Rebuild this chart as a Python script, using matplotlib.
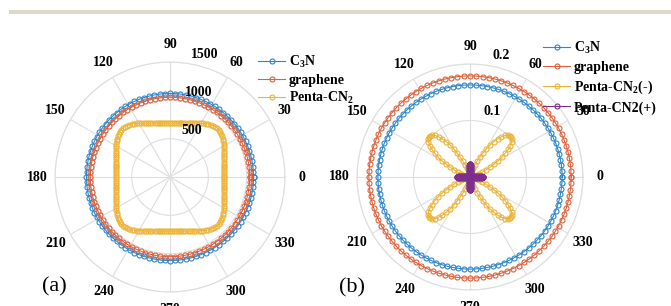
import numpy as np
import matplotlib
matplotlib.use('Agg')
import matplotlib.pyplot as plt
from matplotlib.patches import Rectangle
from matplotlib.transforms import offset_copy

plt.rcParams['font.family'] = ['Liberation Serif', 'DejaVu Serif']
plt.rcParams['font.weight'] = 'bold'
plt.rcParams['mathtext.fontset'] = 'custom'
plt.rcParams['mathtext.rm'] = 'Liberation Serif:bold'
plt.rcParams['mathtext.it'] = 'Liberation Serif:bold'
plt.rcParams['mathtext.bf'] = 'Liberation Serif:bold'

# ---------------- data ----------------
angles_deg = np.arange(0, 360.01, 3.6)        # 101 sample angles (deg), C3N / graphene
angles_fine_deg = np.arange(0, 360.01, 2.0)   # 181 sample angles (deg), Penta-CN2

theta_ticks = [0, 30, 60, 90, 120, 150, 180, 210, 240, 270, 300, 330]
theta_labels = ['0', '30', '60', '90', '120', '150', '180', '210', '240', '270', '300', '330']

# panel (a)
a_rticks = [500, 1000, 1500]
a_rlabels = ['500', '1000', '1500']
c3n_a = [1090, 1090, 1090, 1090, 1090, 1090, 1090, 1090, 1090, 1090,
         1090, 1090, 1090, 1090, 1090, 1090, 1090, 1090, 1090, 1090,
         1090, 1090, 1090, 1090, 1090, 1090, 1090, 1090, 1090, 1090,
         1090, 1090, 1090, 1090, 1090, 1090, 1090, 1090, 1090, 1090,
         1090, 1090, 1090, 1090, 1090, 1090, 1090, 1090, 1090, 1090,
         1090, 1090, 1090, 1090, 1090, 1090, 1090, 1090, 1090, 1090,
         1090, 1090, 1090, 1090, 1090, 1090, 1090, 1090, 1090, 1090,
         1090, 1090, 1090, 1090, 1090, 1090, 1090, 1090, 1090, 1090,
         1090, 1090, 1090, 1090, 1090, 1090, 1090, 1090, 1090, 1090,
         1090, 1090, 1090, 1090, 1090, 1090, 1090, 1090, 1090, 1090, 1090]
graphene_a = [1040, 1040, 1040, 1040, 1040, 1040, 1040, 1040, 1040, 1040,
              1040, 1040, 1040, 1040, 1040, 1040, 1040, 1040, 1040, 1040,
              1040, 1040, 1040, 1040, 1040, 1040, 1040, 1040, 1040, 1040,
              1040, 1040, 1040, 1040, 1040, 1040, 1040, 1040, 1040, 1040,
              1040, 1040, 1040, 1040, 1040, 1040, 1040, 1040, 1040, 1040,
              1040, 1040, 1040, 1040, 1040, 1040, 1040, 1040, 1040, 1040,
              1040, 1040, 1040, 1040, 1040, 1040, 1040, 1040, 1040, 1040,
              1040, 1040, 1040, 1040, 1040, 1040, 1040, 1040, 1040, 1040,
              1040, 1040, 1040, 1040, 1040, 1040, 1040, 1040, 1040, 1040,
              1040, 1040, 1040, 1040, 1040, 1040, 1040, 1040, 1040, 1040, 1040]
penta_a = [705, 705, 707, 709, 712, 716, 721, 727, 733, 741, 750, 760, 771, 783, 795,
           809, 823, 838, 852, 865, 876, 884, 888, 888, 884, 876, 865, 852, 838, 823,
           809, 795, 783, 771, 760, 750, 741, 733, 727, 721, 716, 712, 709, 707, 705,
           705, 705, 707, 709, 712, 716, 721, 727, 733, 741, 750, 760, 771, 783, 795,
           809, 823, 838, 852, 865, 876, 884, 888, 888, 884, 876, 865, 852, 838, 823,
           809, 795, 783, 771, 760, 750, 741, 733, 727, 721, 716, 712, 709, 707, 705,
           705, 705, 707, 709, 712, 716, 721, 727, 733, 741, 750, 760, 771, 783, 795,
           809, 823, 838, 852, 865, 876, 884, 888, 888, 884, 876, 865, 852, 838, 823,
           809, 795, 783, 771, 760, 750, 741, 733, 727, 721, 716, 712, 709, 707, 705,
           705, 705, 707, 709, 712, 716, 721, 727, 733, 741, 750, 760, 771, 783, 795,
           809, 823, 838, 852, 865, 876, 884, 888, 888, 884, 876, 865, 852, 838, 823,
           809, 795, 783, 771, 760, 750, 741, 733, 727, 721, 716, 712, 709, 707, 705,
           705]

# panel (b)
b_rticks = [0.1, 0.2]
b_rlabels = ['0.1', '0.2']
c3n_b = [0.163, 0.163, 0.163, 0.163, 0.163, 0.163, 0.163, 0.163, 0.163, 0.163,
         0.163, 0.163, 0.163, 0.163, 0.163, 0.163, 0.163, 0.163, 0.163, 0.163,
         0.163, 0.163, 0.163, 0.163, 0.163, 0.163, 0.163, 0.163, 0.163, 0.163,
         0.163, 0.163, 0.163, 0.163, 0.163, 0.163, 0.163, 0.163, 0.163, 0.163,
         0.163, 0.163, 0.163, 0.163, 0.163, 0.163, 0.163, 0.163, 0.163, 0.163,
         0.163, 0.163, 0.163, 0.163, 0.163, 0.163, 0.163, 0.163, 0.163, 0.163,
         0.163, 0.163, 0.163, 0.163, 0.163, 0.163, 0.163, 0.163, 0.163, 0.163,
         0.163, 0.163, 0.163, 0.163, 0.163, 0.163, 0.163, 0.163, 0.163, 0.163,
         0.163, 0.163, 0.163, 0.163, 0.163, 0.163, 0.163, 0.163, 0.163, 0.163,
         0.163, 0.163, 0.163, 0.163, 0.163, 0.163, 0.163, 0.163, 0.163, 0.163, 0.163]
graphene_b = [0.179, 0.179, 0.179, 0.179, 0.179, 0.179, 0.179, 0.179, 0.179, 0.179,
              0.179, 0.179, 0.179, 0.179, 0.179, 0.179, 0.179, 0.179, 0.179, 0.179,
              0.179, 0.179, 0.179, 0.179, 0.179, 0.179, 0.179, 0.179, 0.179, 0.179,
              0.179, 0.179, 0.179, 0.179, 0.179, 0.179, 0.179, 0.179, 0.179, 0.179,
              0.179, 0.179, 0.179, 0.179, 0.179, 0.179, 0.179, 0.179, 0.179, 0.179,
              0.179, 0.179, 0.179, 0.179, 0.179, 0.179, 0.179, 0.179, 0.179, 0.179,
              0.179, 0.179, 0.179, 0.179, 0.179, 0.179, 0.179, 0.179, 0.179, 0.179,
              0.179, 0.179, 0.179, 0.179, 0.179, 0.179, 0.179, 0.179, 0.179, 0.179,
              0.179, 0.179, 0.179, 0.179, 0.179, 0.179, 0.179, 0.179, 0.179, 0.179,
              0.179, 0.179, 0.179, 0.179, 0.179, 0.179, 0.179, 0.179, 0.179, 0.179, 0.179]
penta_minus_b = [
    0, 0, 0, 0.0002, 0.0006, 0.0014, 0.0028, 0.005, 0.008, 0.0122, 0.0174, 0.0238,
    0.0311, 0.0393, 0.0482, 0.0574, 0.0666, 0.0754, 0.0835, 0.0904, 0.0959, 0.0998, 0.1018,
    0.1018, 0.0998, 0.0959, 0.0904, 0.0835, 0.0754, 0.0666, 0.0574, 0.0482, 0.0393, 0.0311,
    0.0238, 0.0174, 0.0122, 0.008, 0.005, 0.0028, 0.0014, 0.0006, 0.0002, 0, 0,
    0, 0, 0, 0.0002, 0.0006, 0.0014, 0.0028, 0.005, 0.008, 0.0122, 0.0174, 0.0238,
    0.0311, 0.0393, 0.0482, 0.0574, 0.0666, 0.0754, 0.0835, 0.0904, 0.0959, 0.0998, 0.1018,
    0.1018, 0.0998, 0.0959, 0.0904, 0.0835, 0.0754, 0.0666, 0.0574, 0.0482, 0.0393, 0.0311,
    0.0238, 0.0174, 0.0122, 0.008, 0.005, 0.0028, 0.0014, 0.0006, 0.0002, 0, 0,
    0, 0, 0, 0.0002, 0.0006, 0.0014, 0.0028, 0.005, 0.008, 0.0122, 0.0174, 0.0238,
    0.0311, 0.0393, 0.0482, 0.0574, 0.0666, 0.0754, 0.0835, 0.0904, 0.0959, 0.0998, 0.1018,
    0.1018, 0.0998, 0.0959, 0.0904, 0.0835, 0.0754, 0.0666, 0.0574, 0.0482, 0.0393, 0.0311,
    0.0238, 0.0174, 0.0122, 0.008, 0.005, 0.0028, 0.0014, 0.0006, 0.0002, 0, 0,
    0, 0, 0, 0.0002, 0.0006, 0.0014, 0.0028, 0.005, 0.008, 0.0122, 0.0174, 0.0238,
    0.0311, 0.0393, 0.0482, 0.0574, 0.0666, 0.0754, 0.0835, 0.0904, 0.0959, 0.0998, 0.1018,
    0.1018, 0.0998, 0.0959, 0.0904, 0.0835, 0.0754, 0.0666, 0.0574, 0.0482, 0.0393, 0.0311,
    0.0238, 0.0174, 0.0122, 0.008, 0.005, 0.0028, 0.0014, 0.0006, 0.0002, 0, 0,
    0]
penta_plus_b = [
    0.023, 0.0226, 0.0213, 0.0193, 0.0168, 0.014, 0.0112, 0.0085, 0.0062, 0.0042, 0.0027,
    0.0016, 0.0009, 0.0005, 0.0002, 0.0001, 0, 0, 0, 0, 0, 0, 0,
    0, 0, 0, 0, 0, 0, 0, 0.0001, 0.0002, 0.0005, 0.0009, 0.0016, 0.0027, 0.0042,
    0.0062, 0.0085, 0.0112, 0.014, 0.0168, 0.0193, 0.0213, 0.0226,
    0.023, 0.0226, 0.0213, 0.0193, 0.0168, 0.014, 0.0112, 0.0085, 0.0062, 0.0042, 0.0027,
    0.0016, 0.0009, 0.0005, 0.0002, 0.0001, 0, 0, 0, 0, 0, 0, 0,
    0, 0, 0, 0, 0, 0, 0, 0.0001, 0.0002, 0.0005, 0.0009, 0.0016, 0.0027, 0.0042,
    0.0062, 0.0085, 0.0112, 0.014, 0.0168, 0.0193, 0.0213, 0.0226,
    0.023, 0.0226, 0.0213, 0.0193, 0.0168, 0.014, 0.0112, 0.0085, 0.0062, 0.0042, 0.0027,
    0.0016, 0.0009, 0.0005, 0.0002, 0.0001, 0, 0, 0, 0, 0, 0, 0,
    0, 0, 0, 0, 0, 0, 0, 0.0001, 0.0002, 0.0005, 0.0009, 0.0016, 0.0027, 0.0042,
    0.0062, 0.0085, 0.0112, 0.014, 0.0168, 0.0193, 0.0213, 0.0226,
    0.023, 0.0226, 0.0213, 0.0193, 0.0168, 0.014, 0.0112, 0.0085, 0.0062, 0.0042, 0.0027,
    0.0016, 0.0009, 0.0005, 0.0002, 0.0001, 0, 0, 0, 0, 0, 0, 0,
    0, 0, 0, 0, 0, 0, 0, 0.0001, 0.0002, 0.0005, 0.0009, 0.0016, 0.0027, 0.0042,
    0.0062, 0.0085, 0.0112, 0.014, 0.0168, 0.0193, 0.0213, 0.0226,
    0.023]

# ---------------- styling ----------------
C_BLUE = '#2f86cc'
C_ORANGE = '#e0603a'
C_YELLOW = '#edb43a'
C_PURPLE = '#7e2f8e'
GRID = '#dedede'

fig = plt.figure(figsize=(6.71, 3.06), dpi=100)
fig.add_artist(Rectangle((9 / 671, 1 - 14 / 306), 1.0, 4 / 306,
                         transform=fig.transFigure, color='#ddd8c8', lw=0))

th = np.deg2rad(angles_deg)
thf = np.deg2rad(angles_fine_deg)
line_kw = dict(marker='o', mfc='none', ms=3.6, mew=0.8, lw=0.8)


def style_polar(ax, rmax, rticks, rlabels, roff):
    ax.set_ylim(0, rmax)
    ax.set_yticks(rticks)
    ax.set_yticklabels([])
    ax.set_thetagrids(theta_ticks, labels=theta_labels, fontsize=10,
                      fontweight='bold')
    ax.tick_params(axis='x', pad=2)
    ax.grid(True, color=GRID, lw=0.8)
    ax.spines['polar'].set_color(GRID)
    ax.spines['polar'].set_linewidth(0.8)
    for v, lab in zip(rticks, rlabels):
        tr = offset_copy(ax.transData, fig=fig, x=roff[0], y=roff[1], units='dots')
        ax.text(np.deg2rad(80), v, lab, transform=tr, ha='center', va='center',
                fontsize=10, fontweight='bold')


# panel (a)
axa = fig.add_axes([55 / 671, 1 - 292 / 306, 230 / 671, 230 / 306], projection='polar')
axa.plot(th, c3n_a, color=C_BLUE, label=r'C$_3$N', **line_kw)
axa.plot(th, graphene_a, color=C_ORANGE, label='graphene', **line_kw)
axa.plot(thf, penta_a, color=C_YELLOW, label=r'Penta-CN$_2$', **line_kw)
style_polar(axa, 1500, a_rticks, a_rlabels, (15, 9))
axa.legend(loc='upper left', bbox_to_anchor=(258 / 671, 1 - 54 / 306),
           bbox_transform=fig.transFigure, frameon=False, fontsize=10,
           borderpad=0, borderaxespad=0, handlelength=1.95, handletextpad=0.25,
           labelspacing=0.25)

# panel (b)
axb = fig.add_axes([357 / 671, 1 - 290 / 306, 226 / 671, 226 / 306], projection='polar')
axb.plot(th, c3n_b, color=C_BLUE, label=r'C$_3$N', **line_kw)
axb.plot(th, graphene_b, color=C_ORANGE, label='graphene', **line_kw)
axb.plot(thf, penta_minus_b, color=C_YELLOW, label=r'Penta-CN$_2$(-)', **line_kw)
axb.plot(thf, penta_plus_b, color=C_PURPLE, label='Penta-CN2(+)', **line_kw)
style_polar(axb, 0.2, b_rticks, b_rlabels, (12, 10))
axb.legend(loc='upper left', bbox_to_anchor=(543 / 671, 1 - 40 / 306),
           bbox_transform=fig.transFigure, frameon=False, fontsize=10,
           borderpad=0, borderaxespad=0, handlelength=1.95, handletextpad=0.25,
           labelspacing=0.35)

fig.text(54 / 671, 1 - 287 / 306, '(a)', fontsize=16, fontweight='normal',
         ha='center', va='center')
fig.text(352 / 671, 1 - 288 / 306, '(b)', fontsize=16, fontweight='normal',
         ha='center', va='center')

fig.savefig('out.png', dpi=100)
